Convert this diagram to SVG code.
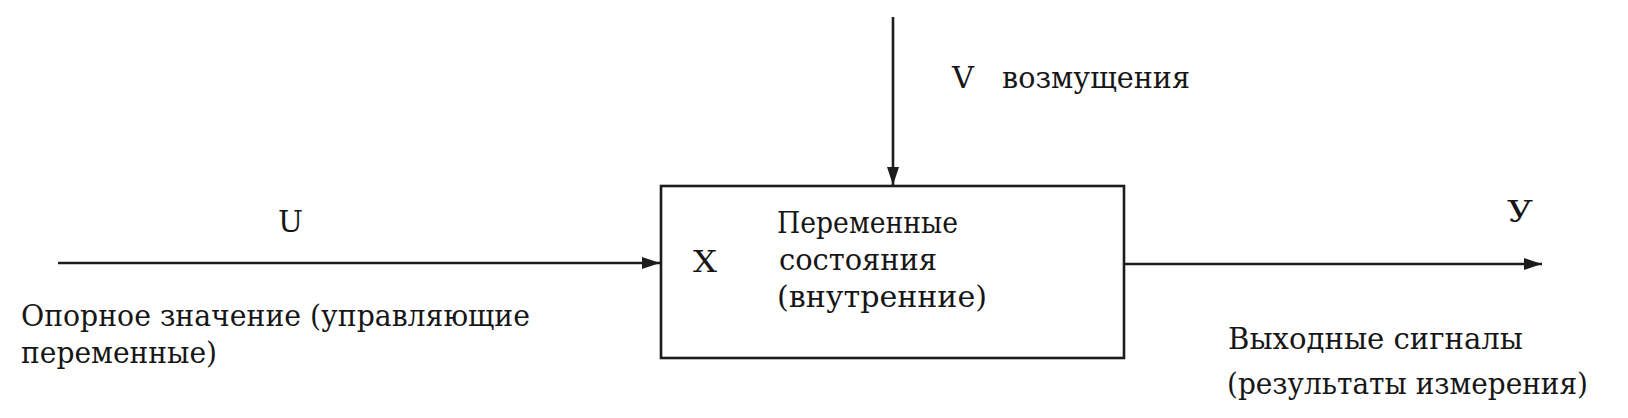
<svg xmlns="http://www.w3.org/2000/svg" width="1628" height="418" viewBox="0 0 1628 418">
<style>
  text { font-family: "DejaVu Serif", "Liberation Serif", serif; font-size: 30px; fill: #161616; }
  .ln { stroke: #1c1c1c; stroke-width: 2.6; fill: none; }
</style>
<defs>
  <marker id="arr" viewBox="0 0 18 12" refX="18" refY="6" markerWidth="18" markerHeight="12" markerUnits="userSpaceOnUse" orient="auto">
    <path d="M0,0 L18,6 L0,12 Z" fill="#1c1c1c"/>
  </marker>
</defs>
<rect width="1628" height="418" fill="#ffffff"/>

<g id="connectors">
  <line class="ln" x1="893" y1="17" x2="893" y2="185" marker-end="url(#arr)"/>
  <line class="ln" x1="58" y1="263" x2="660" y2="263" marker-end="url(#arr)"/>
  <line class="ln" x1="1124" y1="264" x2="1542" y2="264" marker-end="url(#arr)"/>
</g>

<g id="disturbance">
  <text x="952" y="88" textLength="22" lengthAdjust="spacingAndGlyphs">V</text>
  <text x="1002" y="88" textLength="188" lengthAdjust="spacingAndGlyphs">возмущения</text>
</g>

<g id="input">
  <text x="278" y="232" textLength="25" lengthAdjust="spacingAndGlyphs">U</text>
  <text x="21" y="326" textLength="509" lengthAdjust="spacingAndGlyphs">Опорное значение (управляющие</text>
  <text x="21" y="363" textLength="196" lengthAdjust="spacingAndGlyphs">переменные)</text>
</g>

<g id="system">
  <rect class="ln" x="661" y="186" width="463" height="172"/>
  <text x="693" y="272" textLength="24" lengthAdjust="spacingAndGlyphs">X</text>
  <text x="777" y="233" textLength="181" lengthAdjust="spacingAndGlyphs">Переменные</text>
  <text x="779" y="270" textLength="158" lengthAdjust="spacingAndGlyphs">состояния</text>
  <text x="777" y="307" textLength="210" lengthAdjust="spacingAndGlyphs">(внутренние)</text>
</g>

<g id="output">
  <text x="1507" y="222" textLength="26" lengthAdjust="spacingAndGlyphs">У</text>
  <text x="1228" y="349" textLength="295" lengthAdjust="spacingAndGlyphs">Выходные сигналы</text>
  <text x="1227" y="394" textLength="361" lengthAdjust="spacingAndGlyphs">(результаты измерения)</text>
</g>
</svg>
